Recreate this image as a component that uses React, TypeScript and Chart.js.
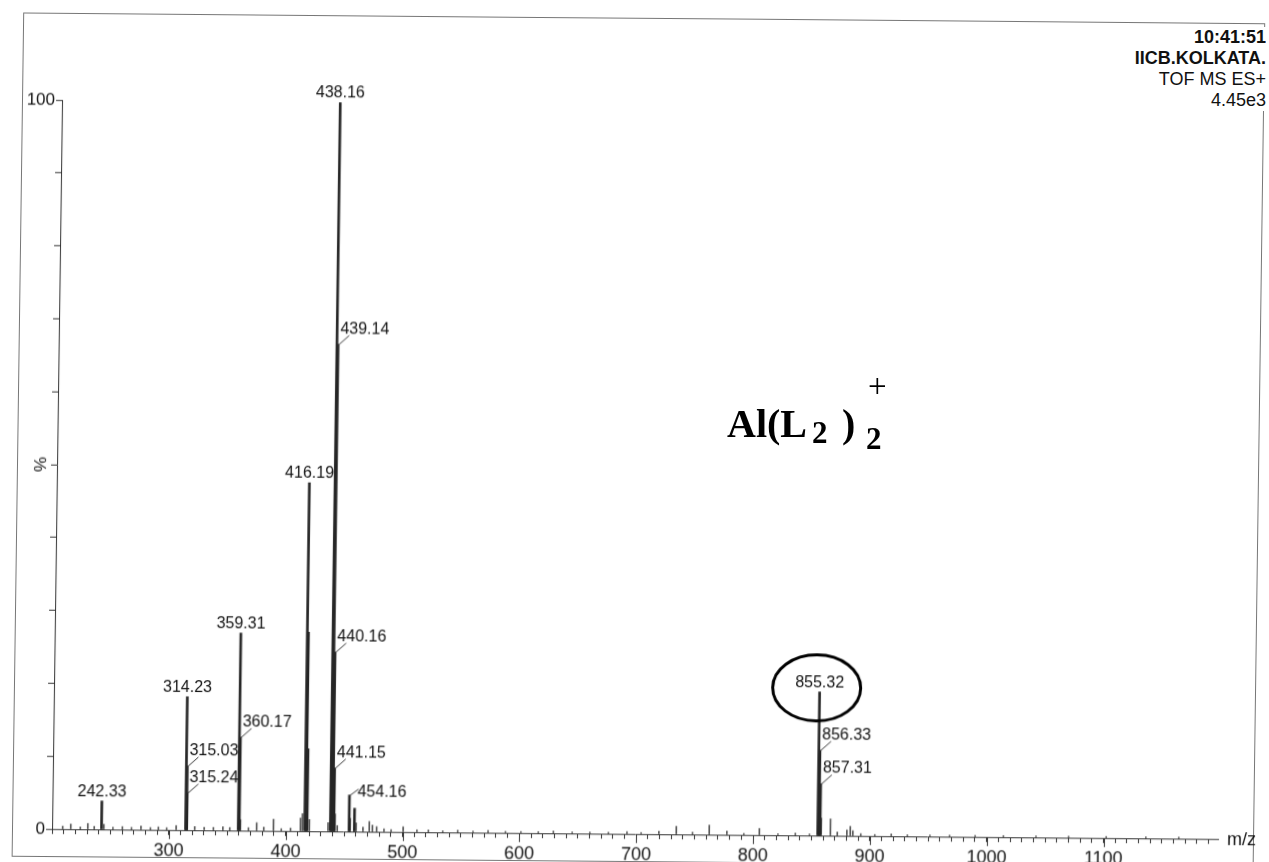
import React, { useEffect, useRef } from "react";
import { Chart, registerables } from "chart.js";

Chart.register(...registerables);

// ---- data ----
const peakMz = [
  209.1, 216.0, 224.2, 230.6, 236.1, 242.33, 244.3, 252.1, 260.2, 268.0, 276.1, 284.2, 291.0, 298.1, 306.2,
  314.23, 315.03, 315.24, 322.1, 330.2, 338.1, 346.2, 352.1, 359.31, 360.17, 361.2, 368.1, 375.1, 381.2,
  389.5, 396.2, 404.1, 412.6, 414.2, 416.19, 417.19, 418.18, 420.2, 436.2, 438.16, 439.14, 440.16, 441.15,
  442.16, 444.1, 454.16, 455.17, 458.7, 460.2, 466.1, 471.5, 474.2, 477.8, 484.1, 490.2, 500.5, 512.3,
  522.1, 534.4, 547.2, 560.3, 573.2, 588.1, 601.3, 616.2, 629.1, 645.2, 660.3, 676.2, 692.1, 704.2, 719.4,
  734.3, 748.2, 762.5, 777.6, 792.1, 805.4, 821.3, 836.2, 848.3, 855.32, 856.33, 857.31, 858.3, 866.2,
  872.1, 880.3, 883.2, 885.4, 892.2, 904.2, 918.3, 932.1, 951.4, 968.2, 990.1, 1014.3, 1042.2, 1070.1,
  1102.3, 1136.2, 1164.4,
];
const peakIntensity = [
  0.4, 0.7, 0.3, 0.8, 0.4, 3.9, 0.7, 0.3, 0.4, 0.3, 0.5, 0.3, 0.4, 0.3, 0.6,
  18.3, 8.8, 5.1, 0.5, 0.4, 0.4, 0.5, 0.4, 27.1, 12.8, 1.5, 0.4, 1.1, 0.5,
  1.6, 0.3, 0.4, 1.8, 2.4, 47.8, 27.3, 11.3, 1.6, 1.2, 100, 66.8, 24.6, 8.7,
  2.4, 0.8, 5.0, 1.8, 3.2, 1.2, 0.6, 1.4, 0.9, 0.7, 0.4, 0.3, 0.7, 0.3,
  0.3, 0.2, 0.3, 0.2, 0.3, 0.2, 0.2, 0.2, 0.3, 0.2, 0.2, 0.2, 0.3, 0.2, 0.4,
  1.1, 0.3, 1.3, 0.5, 0.2, 0.9, 0.2, 0.3, 0.2, 19.7, 11.7, 7.1, 2.4, 2.3,
  0.5, 0.8, 1.3, 0.7, 0.3, 0.2, 0.3, 0.2, 0.2, 0.2, 0.2, 0.2, 0.2, 0.2,
  0.2, 0.2, 0.2,
];

const labelMz = [242.33, 314.23, 315.03, 315.24, 359.31, 360.17, 416.19, 438.16, 439.14, 440.16, 441.15, 454.16, 855.32, 856.33, 857.31];
const labelKind = ["top", "top", "leader", "leader", "top", "leader", "top", "top", "leader", "leader", "leader", "side", "top", "leader", "leader"];
const circledMz = 855.32;
const strongThreshold = 3;

const xMin = 200;
const xMax = 1198;
const xStep = 10;
const xLabelEvery = 100;
const xLabelFirst = 300;
const yMin = 0;
const yMax = 100;
const yStep = 10;
const yLabelValues = [0, 100];

const headerLines = ["10:41:51", "IICB.KOLKATA.", "TOF MS ES+", "4.45e3"];
const headerBold = [true, true, false, false];
const xTitle = "m/z";
const yTitle = "%";

const FONT = '"Liberation Sans", Arial, sans-serif';
const SERIF = '"Liberation Serif", "Times New Roman", serif';

const annotatePlugin = {
  id: "annotate",
  afterDatasetsDraw(chart: any) {
    const { ctx, chartArea } = chart;
    const xs = chart.scales.x;
    const ys = chart.scales.y;
    ctx.save();
    // longer major ticks on the m/z axis
    ctx.strokeStyle = "#333";
    ctx.lineWidth = 1;
    xs.ticks.forEach((t: any) => {
      if (t.value % xLabelEvery === 0 && t.value >= xLabelFirst) {
        const px = Math.round(xs.getPixelForValue(t.value)) + 0.5;
        ctx.beginPath();
        ctx.moveTo(px, chartArea.bottom);
        ctx.lineTo(px, chartArea.bottom + 9);
        ctx.stroke();
      }
    });
    ctx.font = `16px ${FONT}`;
    ctx.fillStyle = "#111";
    labelMz.forEach((m, i) => {
      const idx = peakMz.indexOf(m);
      const px = xs.getPixelForValue(m);
      const py = ys.getPixelForValue(peakIntensity[idx]);
      const txt = m.toFixed(2);
      const kind = labelKind[i];
      ctx.textBaseline = "alphabetic";
      if (kind === "top") {
        ctx.textAlign = "center";
        ctx.fillText(txt, px, py - 5);
      } else if (kind === "leader") {
        ctx.beginPath();
        ctx.moveTo(px + 1, py);
        ctx.lineTo(px + 11, py - 9);
        ctx.stroke();
        ctx.textAlign = "left";
        ctx.fillText(txt, px + 2, py - 11);
      } else {
        ctx.beginPath();
        ctx.moveTo(px + 1, py);
        ctx.lineTo(px + 9, py - 6);
        ctx.stroke();
        ctx.textAlign = "left";
        ctx.fillText(txt, px + 8, py + 1);
      }
    });
    // circle around the molecular ion label
    const ci = peakMz.indexOf(circledMz);
    const cx = xs.getPixelForValue(circledMz);
    const cy = ys.getPixelForValue(peakIntensity[ci]) - 4;
    ctx.beginPath();
    ctx.lineWidth = 3;
    ctx.strokeStyle = "#000";
    ctx.ellipse(cx - 3, cy, 44, 33, 0, 0, Math.PI * 2);
    ctx.stroke();
    // x axis title at the end of the axis
    ctx.font = `18px ${FONT}`;
    ctx.fillStyle = "#111";
    ctx.textAlign = "left";
    ctx.textBaseline = "middle";
    ctx.fillText(xTitle, chartArea.right + 9, chartArea.bottom + 1);
    ctx.restore();
  },
};

function Piece(props: { text: string; left: number; baseline: number; size: number; bold?: boolean }) {
  const { text, left, baseline, size, bold } = props;
  return (
    <span
      style={{
        position: "absolute",
        left,
        top: baseline - size * 0.8375,
        fontFamily: SERIF,
        fontWeight: bold ? "bold" : "normal",
        fontSize: size,
        lineHeight: `${size}px`,
        whiteSpace: "nowrap",
        color: "#000",
      }}
    >
      {text}
    </span>
  );
}

export default function App() {
  const ref = useRef<HTMLCanvasElement>(null);

  useEffect(() => {
    const strong = peakMz
      .map((m, i) => ({ x: m, y: peakIntensity[i] }))
      .filter((p) => p.y >= strongThreshold);
    const weak = peakMz
      .map((m, i) => ({ x: m, y: peakIntensity[i] }))
      .filter((p) => p.y < strongThreshold);
    const chart = new Chart(ref.current as HTMLCanvasElement, {
      type: "bar",
      data: {
        datasets: [
          { data: strong as any, backgroundColor: "#262626", borderWidth: 0, barThickness: 2, grouped: false } as any,
          { data: weak as any, backgroundColor: "#555", borderWidth: 0, barThickness: 1, grouped: false } as any,
        ],
      },
      options: {
        animation: false,
        responsive: false,
        devicePixelRatio: 1,
        layout: { padding: { top: 100, right: 46, left: 0, bottom: 0 } },
        plugins: { legend: { display: false }, tooltip: { enabled: false } },
        scales: {
          x: {
            type: "linear",
            min: xMin,
            max: xMax,
            offset: false,
            afterFit: (s: any) => {
              s.height = 34;
            },
            grid: { offset: false, drawOnChartArea: false, drawTicks: true, tickLength: 5, color: "#333" },
            border: { display: true, color: "#333", width: 1 },
            ticks: {
              stepSize: xStep,
              autoSkip: false,
              includeBounds: false,
              maxRotation: 0,
              padding: 5,
              color: "#111",
              font: { family: FONT, size: 18 },
              callback: (v: any) => {
                const n = Math.round(Number(v));
                return n % xLabelEvery === 0 && n >= xLabelFirst ? String(n) : "";
              },
            },
          },
          y: {
            type: "linear",
            min: yMin,
            max: yMax,
            afterFit: (s: any) => {
              s.width = 57;
            },
            grid: { drawOnChartArea: false, drawTicks: true, tickLength: 6, color: "#333" },
            border: { display: true, color: "#333", width: 1 },
            title: { display: true, text: yTitle, color: "#111", font: { family: FONT, size: 17 }, padding: { top: 31, bottom: 0 } },
            ticks: {
              stepSize: yStep,
              autoSkip: false,
              padding: 1,
              color: "#111",
              font: { family: FONT, size: 17 },
              callback: (v: any) => (yLabelValues.includes(Number(v)) ? String(v) : ""),
            },
          },
        },
      },
      plugins: [annotatePlugin],
    } as any);
    return () => chart.destroy();
  }, []);

  return (
    <div style={{ position: "absolute", left: 0, top: 0, width: 1269, height: 862, background: "#fff", overflow: "hidden" }}>
      {/* scanned printout: the plot sits slightly skewed on the page */}
      <div
        style={{
          position: "absolute",
          left: 0,
          top: 0,
          width: 1269,
          height: 862,
          transformOrigin: "0 0",
          transform: "matrix(1, 0.00858, -0.01374, 1.0014, 6.38, -0.65)",
        }}
      >
        <div style={{ position: "absolute", left: 17, top: 13, width: 1240, height: 841, border: "1px solid #777" }} />
        <canvas ref={ref} width={1269} height={862} style={{ position: "absolute", left: 0, top: 0, display: "block" }} />
      </div>
      <div
        style={{
          position: "absolute",
          right: 3,
          top: 27,
          textAlign: "right",
          fontFamily: FONT,
          fontSize: 18,
          lineHeight: "21px",
          color: "#111",
          background: "#fff",
          paddingLeft: 4,
        }}
      >
        {headerLines.map((t, i) => (
          <div key={i} style={{ fontWeight: headerBold[i] ? "bold" : "normal" }}>
            {t}
          </div>
        ))}
      </div>
      <Piece text="Al(L" left={727} baseline={437} size={40} bold />
      <Piece text="2" left={812} baseline={443} size={31} bold />
      <Piece text=")" left={842} baseline={437} size={40} bold />
      <Piece text="2" left={866} baseline={449} size={31} bold />
      <Piece text="+" left={868} baseline={398} size={33} />
    </div>
  );
}
